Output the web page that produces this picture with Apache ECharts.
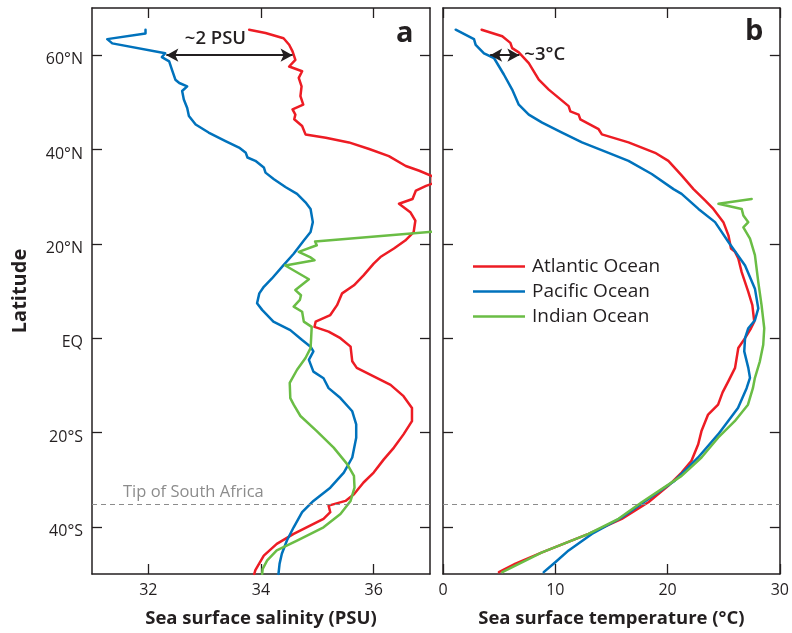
<!DOCTYPE html>
<html>
<head>
<meta charset="utf-8">
<script src="https://cdn.jsdelivr.net/npm/echarts@6/dist/echarts.min.js"></script>
<style>
html,body{margin:0;padding:0;background:#fff;overflow:hidden;}
#chart{width:792px;height:633px;}
</style>
</head>
<body>
<div id="chart"></div>
<script>
// ---- Data: [value, latitude] ----
const latTicks = [-40, -20, 0, 20, 40, 60];
const salinityTicks = [32, 34, 36];
const seriesNames = ['Atlantic Ocean', 'Pacific Ocean', 'Indian Ocean'];

const atlanticSalinity = [[33.79,65.4],[34.08,64.7],[34.40,63.6],[34.50,62.2],[34.56,60.8],[34.61,59.0],[34.50,57.6],[34.73,56.6],[34.67,55.2],[34.72,53.4],[34.70,51.3],[34.75,49.5],[34.56,48.5],[34.61,47.4],[34.59,46.4],[34.73,45.0],[34.79,43.2],[35.15,42.5],[35.56,41.5],[35.92,40.1],[36.27,38.6],[36.57,36.5],[36.81,35.5],[37.05,34.3],[37.05,32.8],[36.93,32.3],[36.75,31.3],[36.69,29.5],[36.45,28.5],[36.65,26.7],[36.74,24.9],[36.71,22.5],[36.56,20.7],[36.36,19.0],[36.12,17.2],[36.00,15.8],[35.82,13.3],[35.65,11.2],[35.44,9.5],[35.35,7.0],[35.23,4.9],[34.97,3.5],[34.95,2.4],[35.20,1.4],[35.41,0.0],[35.59,-1.8],[35.62,-4.9],[35.70,-6.3],[36.00,-8.1],[36.30,-9.9],[36.53,-12.3],[36.68,-14.8],[36.68,-17.6],[36.53,-20.4],[36.36,-23.2],[36.18,-25.7],[36.00,-28.5],[35.82,-30.6],[35.65,-33.1],[35.50,-34.5],[35.20,-35.5],[35.23,-36.9],[35.11,-38.3],[34.88,-39.7],[34.58,-41.5],[34.28,-43.6],[34.05,-46.1],[33.90,-49.2],[33.88,-50]];
const pacificSalinity = [[31.95,65.4],[31.95,64.6],[31.27,63.4],[31.36,62.5],[32.30,60.4],[32.24,59.6],[32.37,58.7],[32.42,56.9],[32.48,54.8],[32.55,54.1],[32.69,53.4],[32.60,52.4],[32.63,50.6],[32.69,48.8],[32.72,47.1],[32.84,45.3],[33.07,43.6],[33.37,41.8],[33.61,40.4],[33.73,39.3],[33.76,38.3],[33.90,37.6],[34.05,36.2],[34.08,35.1],[34.23,33.7],[34.44,32.0],[34.64,30.6],[34.79,28.8],[34.88,27.4],[34.92,24.6],[34.88,22.5],[34.76,20.7],[34.58,17.9],[34.40,15.5],[34.19,12.6],[34.05,10.9],[33.97,9.5],[33.93,7.4],[34.02,6.0],[34.22,3.5],[34.52,1.7],[34.73,-0.4],[34.88,-1.8],[34.93,-2.8],[34.85,-4.6],[34.93,-7.1],[35.11,-8.5],[35.20,-10.6],[35.41,-12.7],[35.62,-15.5],[35.69,-18.3],[35.69,-21.1],[35.62,-25.3],[35.47,-28.5],[35.23,-31.7],[34.93,-34.5],[34.73,-36.9],[34.58,-40.1],[34.46,-42.9],[34.37,-45.7],[34.33,-47.8],[34.31,-50]];
const indianSalinity = [[37.05,22.6],[34.96,20.5],[34.99,19.7],[34.67,18.3],[34.87,17.2],[34.95,16.5],[34.43,15.4],[34.85,12.5],[34.61,10.2],[34.71,9.1],[34.69,8.1],[34.58,6.7],[34.73,5.6],[34.76,3.5],[34.90,2.4],[34.89,0.0],[34.88,-2.1],[34.79,-4.2],[34.64,-6.7],[34.51,-9.5],[34.52,-12.7],[34.58,-14.1],[34.70,-16.5],[34.99,-19.7],[35.29,-23.2],[35.53,-26.7],[35.65,-29.2],[35.66,-31.7],[35.59,-34.5],[35.41,-37.3],[35.11,-40.1],[34.64,-42.9],[34.28,-45.0],[34.11,-47.1],[34.03,-48.9],[34.02,-50]];

const atlanticTemp = [[3.44,65.4],[5.28,64.0],[6.0,62.6],[6.16,61.5],[6.75,60.6],[7.64,58.3],[8.53,54.8],[9.42,52.7],[11.19,49.2],[11.34,48.1],[12.08,47.4],[12.23,46.4],[13.86,44.3],[14.15,43.2],[16.52,41.5],[18.89,39.3],[20.07,37.6],[21.25,34.5],[22.31,31.6],[23.34,29.2],[24.08,27.4],[24.97,24.6],[25.42,21.8],[25.65,19.0],[26.01,18.3],[26.3,16.9],[26.6,14.0],[27.19,9.8],[27.55,7.0],[27.72,3.5],[27.43,2.1],[26.9,0.0],[26.3,-2.1],[26.01,-6.3],[25.42,-9.1],[24.9,-11.5],[24.5,-14.1],[23.61,-16.2],[23.02,-19.7],[22.73,-22.5],[22.13,-26.0],[21.25,-28.5],[20.06,-31.3],[18.29,-34.8],[15.92,-38.3],[12.96,-41.5],[8.82,-45.4],[6.46,-47.8],[4.98,-49.6]];
const pacificTemp = [[1.13,65.4],[2.76,63.4],[2.91,62.2],[3.65,60.4],[4.54,59.4],[5.42,55.9],[6.16,52.7],[6.75,49.5],[7.64,47.4],[8.83,45.7],[10.6,43.6],[12.38,41.5],[14.74,39.3],[16.52,37.6],[18.59,34.8],[20.53,31.6],[21.25,30.6],[22.75,27.4],[24.23,24.6],[25.42,20.4],[26.9,15.4],[27.78,10.5],[28.08,6.3],[27.78,3.8],[27.19,2.1],[26.9,0.0],[26.83,-2.8],[27.19,-6.3],[27.34,-8.4],[27.04,-10.6],[26.66,-12.7],[26.27,-14.8],[24.5,-20.4],[22.72,-25.3],[20.65,-30.2],[18.29,-34.1],[15.92,-38.0],[13.26,-41.5],[11.19,-45.0],[10.0,-47.5],[8.97,-49.6]];
const indianTemp = [[27.49,29.5],[24.53,28.5],[26.6,27.4],[26.75,26.0],[27.19,24.6],[26.75,23.5],[27.34,21.1],[27.78,17.6],[28.08,11.9],[28.37,7.0],[28.61,2.1],[28.52,-1.4],[28.22,-4.9],[27.78,-8.4],[27.6,-10.6],[27.16,-14.1],[25.98,-17.6],[24.5,-21.1],[23.02,-25.3],[21.25,-29.2],[19.47,-32.0],[17.7,-34.8],[15.63,-38.3],[12.96,-41.5],[8.82,-45.4],[5.28,-49.6]];

const tipOfSouthAfricaLat = -35.2;
const psuArrow = [[32.32, 60], [34.56, 60]];
const tempArrow = [[4.2, 60], [6.8, 60]];

// ---- Styling ----
const FONT = '"Open Sans", "Noto Sans", sans-serif';
const INK = '#231f20';
const colors = ['#ed1c24', '#0072bc', '#6abd45'];

const latLabel = v => v === 0 ? 'EQ' : (v > 0 ? v + '°N' : (-v) + '°S');

function tickStyle(custom) {
  const t = { show: true, inside: true, length: 10, lineStyle: { color: INK, width: 1.3 } };
  if (custom) t.customValues = custom;
  return t;
}

function frameAxis(extra) {
  return Object.assign({
    type: 'value',
    axisLine: { show: true, onZero: false, lineStyle: { color: INK, width: 1.5 } },
    axisTick: tickStyle(),
    splitLine: { show: false },
    axisLabel: { show: false }
  }, extra);
}

const labelStyle = { show: true, color: INK, fontFamily: FONT, fontSize: 16, margin: 8 };
const nameStyle = { color: INK, fontFamily: FONT, fontSize: 18.5, fontWeight: 'bold' };

function lineSeries(name, data, xi, yi, color, extra) {
  return Object.assign({
    name, type: 'line', data, xAxisIndex: xi, yAxisIndex: yi,
    showSymbol: false, symbol: 'none', smooth: false, clip: true,
    lineStyle: { color, width: 2.5, join: 'round', cap: 'round' }, itemStyle: { color },
    emphasis: { disabled: true }, z: 3
  }, extra || {});
}

function arrowMark(pts, labelText, labelPos, offset) {
  return {
    silent: true,
    symbol: ['arrow', 'arrow'],
    symbolSize: [10, 12],
    lineStyle: { color: INK, width: 2, type: 'solid' },
    label: { show: true, position: labelPos, formatter: labelText, color: INK, fontFamily: FONT, fontSize: 18.5, fontWeight: 600, offset: offset || [0,0] },
    emphasis: { disabled: true },
    data: [[{ coord: pts[0] }, { coord: pts[1] }]]
  };
}

function dashMark() {
  return {
    silent: true,
    symbol: 'none',
    lineStyle: { color: '#8c8c8c', width: 1, type: [5, 4] },
    label: { show: false },
    emphasis: { disabled: true },
    data: [{ yAxis: tipOfSouthAfricaLat }]
  };
}

const option = {
  animation: false,
  backgroundColor: '#fff',
  grid: [
    { left: 92, right: 362, top: 8, bottom: 56 },
    { left: 443, right: 12, top: 8, bottom: 56 }
  ],
  xAxis: [
    frameAxis({ gridIndex: 0, position: 'bottom', min: 31, max: 37,
      axisTick: tickStyle(salinityTicks),
      axisLabel: Object.assign({}, labelStyle, { customValues: salinityTicks }),
      name: 'Sea surface salinity (PSU)', nameLocation: 'middle', nameGap: 35, nameTextStyle: nameStyle }),
    frameAxis({ gridIndex: 0, position: 'top', min: 31, max: 37, axisTick: tickStyle(salinityTicks) }),
    frameAxis({ gridIndex: 1, position: 'bottom', min: 0, max: 30, interval: 10,
      axisLabel: labelStyle,
      name: 'Sea surface temperature (°C)', nameLocation: 'middle', nameGap: 35, nameTextStyle: nameStyle }),
    frameAxis({ gridIndex: 1, position: 'top', min: 0, max: 30, interval: 10 })
  ],
  yAxis: [
    frameAxis({ gridIndex: 0, position: 'left', min: -50, max: 70,
      axisTick: tickStyle(latTicks),
      axisLabel: Object.assign({}, labelStyle, { customValues: latTicks, formatter: latLabel, margin: 9, verticalAlign: 'top', lineHeight: 9 }),
      name: 'Latitude', nameLocation: 'middle', nameGap: 62, nameRotate: 90,
      nameTextStyle: Object.assign({}, nameStyle, { fontSize: 20 }) }),
    frameAxis({ gridIndex: 0, position: 'right', min: -50, max: 70, axisTick: tickStyle(latTicks) }),
    frameAxis({ gridIndex: 1, position: 'left', min: -50, max: 70, axisTick: tickStyle(latTicks) }),
    frameAxis({ gridIndex: 1, position: 'right', min: -50, max: 70, axisTick: tickStyle(latTicks) })
  ],
  legend: {
    data: seriesNames,
    orient: 'vertical',
    left: 468, top: 252,
    icon: 'rect', itemWidth: 52, itemHeight: 2.6, itemGap: 6,
    selectedMode: false,
    textStyle: { color: INK, fontFamily: FONT, fontSize: 19, lineHeight: 19, padding: [0,0,0,2] }
  },
  graphic: [
    { type: 'text', left: 396, top: 19, style: { text: 'a', font: 'bold 29px ' + FONT, fill: INK } },
    { type: 'text', left: 745, top: 17, style: { text: 'b', font: 'bold 29px ' + FONT, fill: INK } },
    { type: 'text', left: 123, top: 484, style: { text: 'Tip of South Africa', font: '16.5px ' + FONT, fill: '#8c8c8c' } }
  ],
  series: [
    lineSeries(seriesNames[0], atlanticSalinity, 0, 0, colors[0], { markLine: arrowMark(psuArrow, '~2 PSU', 'middle', [-14, -2]) }),
    lineSeries(seriesNames[1], pacificSalinity, 0, 0, colors[1], { markLine: dashMark() }),
    lineSeries(seriesNames[2], indianSalinity, 0, 0, colors[2]),
    lineSeries(seriesNames[0], atlanticTemp, 2, 2, colors[0], { markLine: arrowMark(tempArrow, '~3°C', 'end', [0, 0]) }),
    lineSeries(seriesNames[1], pacificTemp, 2, 2, colors[1], { markLine: dashMark() }),
    lineSeries(seriesNames[2], indianTemp, 2, 2, colors[2])
  ]
};

const chart = echarts.init(document.getElementById('chart'), null, { renderer: 'canvas' });
chart.setOption(option);
</script>
</body>
</html>
